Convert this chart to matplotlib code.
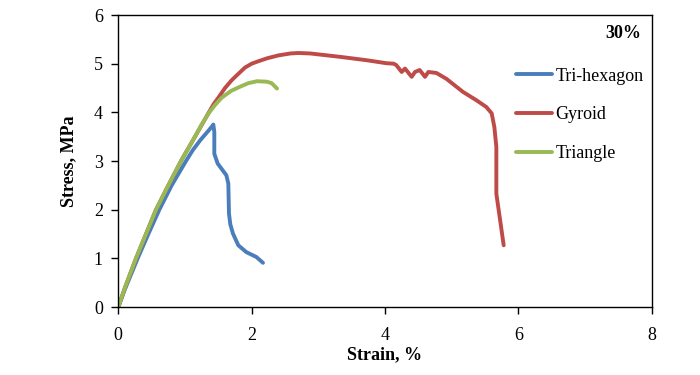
import matplotlib
matplotlib.use("Agg")
import matplotlib.pyplot as plt

# stress-strain curves (strain %, stress MPa)
tri_strain = [0, 0.1, 0.29, 0.45, 0.615, 0.8, 1.015, 1.12, 1.23, 1.35, 1.41, 1.425,
              1.44, 1.44, 1.49, 1.56, 1.62, 1.65, 1.66, 1.68, 1.72, 1.8, 1.92,
              2.07, 2.17]
tri_stress = [0, 0.37, 1.0, 1.5, 2.0, 2.5, 3.0, 3.23, 3.43, 3.62, 3.72, 3.75,
              3.6, 3.15, 2.95, 2.82, 2.71, 2.54, 1.92, 1.7, 1.51, 1.27, 1.13,
              1.03, 0.91]

gyr_strain = [0, 0.1, 0.265, 0.4, 0.565, 0.75, 0.94, 1.15, 1.35, 1.43, 1.5, 1.6,
              1.7, 1.83, 1.9, 2.0, 2.1, 2.23, 2.4, 2.58, 2.7, 2.88, 3.33, 3.73,
              4.02, 4.13, 4.17, 4.25, 4.3, 4.4, 4.45, 4.52, 4.6, 4.65, 4.77,
              4.92, 5.17, 5.37, 5.52, 5.6, 5.64, 5.67, 5.67, 5.67, 5.72, 5.78]
gyr_stress = [0, 0.4, 1.0, 1.45, 2.0, 2.5, 3.0, 3.5, 3.98, 4.17, 4.3, 4.5,
              4.66, 4.83, 4.92, 5.0, 5.05, 5.11, 5.17, 5.21, 5.22, 5.21, 5.14,
              5.07, 5.01, 5.0, 4.97, 4.83, 4.9, 4.73, 4.83, 4.87, 4.73, 4.83,
              4.81, 4.69, 4.42, 4.25, 4.11, 3.98, 3.7, 3.29, 2.6, 2.33, 1.85,
              1.27]

tria_strain = [0, 0.1, 0.265, 0.4, 0.565, 0.75, 0.94, 1.15, 1.25, 1.365, 1.45,
               1.55, 1.69, 1.83, 1.95, 2.08, 2.23, 2.3, 2.38]
tria_stress = [0, 0.4, 1.0, 1.45, 2.0, 2.5, 3.0, 3.5, 3.75, 4.0, 4.15,
               4.3, 4.44, 4.53, 4.6, 4.64, 4.63, 4.6, 4.49]

plt.rcParams["font.family"] = ["Liberation Serif", "DejaVu Serif"]

fig = plt.figure(figsize=(7, 3.75), dpi=100)
ax = fig.add_axes([0.169, 0.181, 0.762, 0.779])

style = dict(lw=2.8, solid_capstyle="round", solid_joinstyle="round")
ax.plot(tri_strain, tri_stress, color="#4A7EBB", label="Tri-hexagon", **style)
ax.plot(gyr_strain, gyr_stress, color="#BE4B48", label="Gyroid", **style)
ax.plot(tria_strain, tria_stress, color="#98B954", label="Triangle", **style)

ax.set_xlim(0, 8)
ax.set_ylim(0, 6)
ax.set_xticks([0, 2, 4, 6, 8])
ax.set_yticks(range(7))
ax.tick_params(direction="out", length=5, width=1, labelsize=13, pad=6)
ax.tick_params(axis="x", pad=9)
for s in ax.spines.values():
    s.set_linewidth(1)

ax.set_xlabel("Strain, %", fontsize=13, fontweight="bold", labelpad=2)
ax.set_ylabel("Stress, MPa", fontsize=13, fontweight="bold", labelpad=12)

ax.text(0.98, 0.965, "30%", transform=ax.transAxes, ha="right", va="top",
        fontsize=13, fontweight="bold")

ax.legend(loc="upper left", bbox_to_anchor=(0.745, 0.82), frameon=False,
          fontsize=13, handlelength=2.0, handletextpad=0.2, labelspacing=1.2,
          borderpad=0, borderaxespad=0)

fig.savefig("out.png", dpi=100)
